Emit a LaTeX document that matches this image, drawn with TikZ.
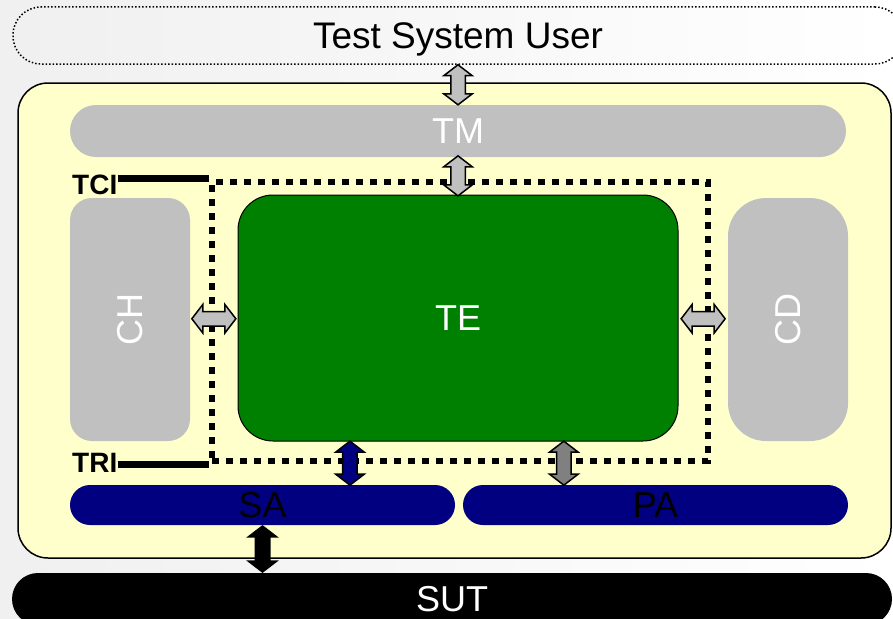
\documentclass[tikz,border=0pt]{standalone}
\usepackage{fontspec}
\setmainfont{Liberation Sans}
\usetikzlibrary{shapes,arrows,calc}
\definecolor{pale}{HTML}{FFFFCC}
\definecolor{silver}{HTML}{C0C0C0}
\definecolor{navyblue}{HTML}{000080}
\definecolor{tegreen}{HTML}{008000}
\newcommand\boxfont{\fontsize{36}{40}\selectfont}
\newcommand\tagfont{\fontsize{28}{32}\selectfont\bfseries}
\tikzstyle{r} = [rectangle, inner sep=0pt, text centered, font=\boxfont]
\tikzstyle{g} = [r, fill=silver, text=white]
\tikzstyle{b} = [r, fill=navyblue, text=black]
\tikzstyle{dbl} = [double arrow, draw=black, line width=1.5pt, inner sep=0pt, inner ysep=6.5pt, double arrow head extend=7pt, double arrow tip angle=105, fill=silver, rotate=90]

\begin{document}
\begin{tikzpicture}[x=1pt,y=-1pt]
		\useasboundingbox (0,0) rectangle (893,618);
		\clip (0,0) rectangle (893,618);
		\fill[left color=gray!12, right color=white] (0,0) rectangle (893,618);
		\node[r, draw, dotted, line width=1.5pt, minimum width=890, minimum height=57, rounded corners=28, text depth=0pt, font=\fontsize{37}{40}\selectfont](tsu) at (458,35.5){Test System User\hspace{8pt}};
		\node[r, draw, line width=1.5pt, fill=pale, minimum width=873, minimum height=475, rounded corners=30](ts) at (454.5,320.5){};
		\node[g, minimum width=776, minimum height=52, rounded corners=26](tm) at (458,131){TM};
		\node[g, minimum width=120, minimum height=243, rounded corners=22](ch) at (130,319.5){\rotatebox{90}{CH}};
		\node[g, minimum width=120, minimum height=243, rounded corners=38](cd) at (788,319.5){\rotatebox{90}{CD}};
		\node[r, draw, line width=1pt, fill=tegreen, text=white, minimum width=440, minimum height=246, rounded corners=35](te) at (458,318){TE};
		\node[rectangle, draw, line width=6.5pt, dash pattern=on 7pt off 7pt, minimum width=496, minimum height=279](fr) at (460,321.5){};
		\node[b, minimum width=385, minimum height=40, rounded corners=20](sa) at (262.5,505){SA};
		\node[b, minimum width=385, minimum height=40, rounded corners=20](pa) at (655.5,505){PA};
		\node[r, fill=black, text=white, minimum width=880, minimum height=52, rounded corners=26](sut) at (452,599){SUT};
		\node[anchor=west, inner sep=0pt, font=\tagfont](tci) at (72,185){TCI};
		\node[anchor=west, inner sep=0pt, font=\tagfont](tri) at (72,463){TRI};
		\draw[line width=7pt] (tci.east |- fr.north west)--(fr.north west);
		\draw[line width=7pt] (tri.east |- fr.south west)--(fr.south west);
		% interfaces
		\coordinate (t5) at ($(te.south west)!.255!(te.south east)$);
		\coordinate (t6) at ($(te.south west)!.74!(te.south east)$);
		\node[dbl, minimum height=40] at ($(tm.north)!.5!(tm.north |- tsu.south)$){};
		\node[dbl, minimum height=40] at ($(tm.south)!.5!(te.north)$){};
		\node[dbl, rotate=-90, minimum height=44] at ($(ch.east)!.5!(te.west)$){};
		\node[dbl, rotate=-90, minimum height=44] at ($(te.east)!.5!(cd.west)$){};
		\node[dbl, fill=navyblue, minimum height=44] at ($(t5)!.5!(t5 |- sa.north)$){};
		\node[dbl, fill=gray, minimum height=44] at ($(t6)!.5!(t6 |- pa.north)$){};
		\node[dbl, fill=black, minimum height=46] at ($(sa.south)!.5!(sa.south |- sut.north)$){};
		\end{tikzpicture}
\end{document}
